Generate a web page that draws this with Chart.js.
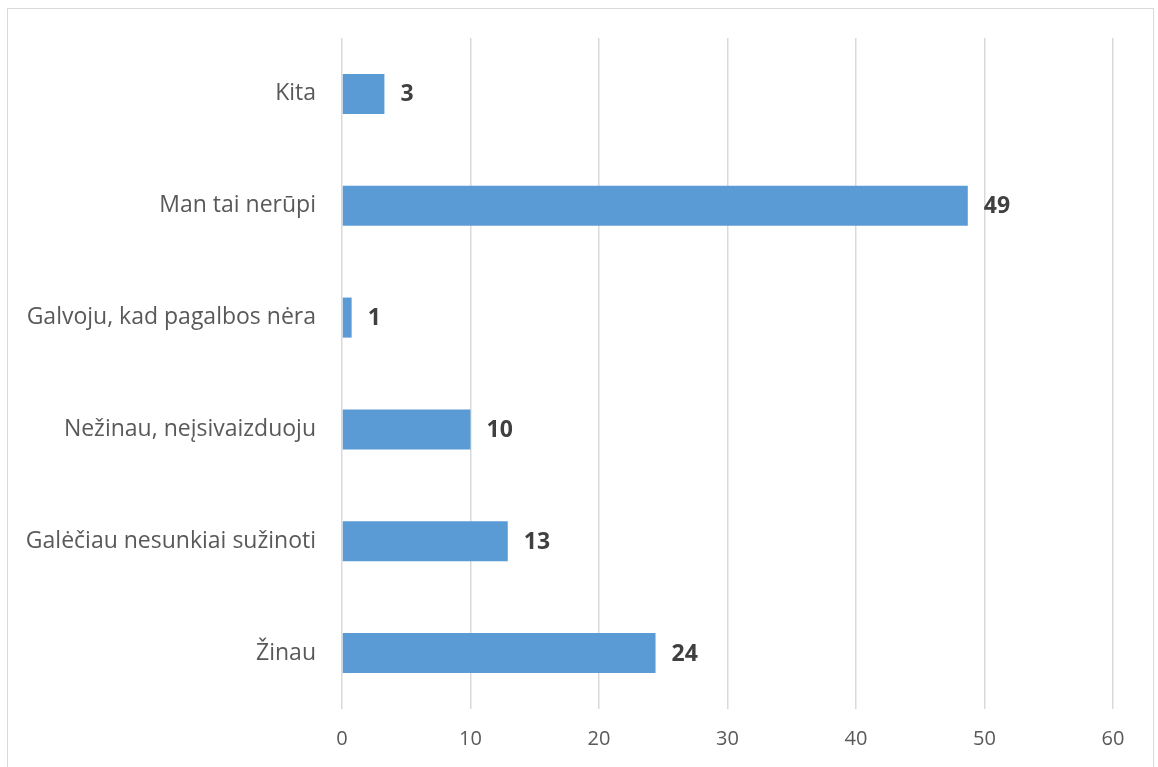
<!DOCTYPE html>
<html>
<head>
<meta charset="utf-8">
<script src="https://cdn.jsdelivr.net/npm/chart.js@4.4.0/dist/chart.umd.min.js"></script>
<style>
  html, body { margin: 0; padding: 0; background: #fff; }
  #wrap { position: relative; width: 1158px; height: 767px; }
  #frame { position: absolute; left: 7px; top: 8px; width: 1147px; height: 780px; border: 1px solid #d9d9d9; box-sizing: border-box; }
  canvas { position: absolute; left: 0; top: 0; }
</style>
</head>
<body>
<div id="wrap">
  <div id="frame"></div>
  <canvas id="barChart" width="1158" height="767"></canvas>
</div>
<script>
const categories = [
  "Kita",
  "Man tai nerūpi",
  "Galvoju, kad pagalbos nėra",
  "Nežinau, neįsivaizduoju",
  "Galėčiau nesunkiai sužinoti",
  "Žinau"
];
const values = [3.3, 48.7, 0.75, 10, 12.9, 24.4];
const xTicks = [0, 10, 20, 30, 40, 50, 60];

const fontFamily = "'Open Sans', sans-serif";

// value labels to the right of each bar
const barLabels = {
  id: "barLabels",
  afterDatasetsDraw(chart) {
    const ctx = chart.ctx;
    const meta = chart.getDatasetMeta(0);
    ctx.save();
    ctx.font = "bold 23px " + fontFamily;
    ctx.fillStyle = "#404040";
    ctx.textAlign = "left";
    ctx.textBaseline = "middle";
    meta.data.forEach((bar, i) => {
      ctx.fillText(String(Math.round(values[i])), bar.x + 16, bar.y + 1);
    });
    ctx.restore();
  }
};

const canvas = document.getElementById("barChart");

const chart = new Chart(canvas, {
  type: "bar",
  data: {
    labels: categories,
    datasets: [
      {
        data: values,
        backgroundColor: "#5b9bd5",
        borderWidth: 0,
        barPercentage: 0.358,
        categoryPercentage: 1.0,
      },
    ],
  },
  options: {
    indexAxis: "y",
    responsive: false,
    animation: false,
    layout: { padding: { left: 0, right: 45, top: 38, bottom: 0 } },
    plugins: {
      legend: { display: false },
      tooltip: { enabled: false },
    },
    scales: {
      x: {
        min: 0,
        max: 60,
        afterBuildTicks(scale) {
          scale.ticks = xTicks.map(v => ({ value: v }));
        },
        afterFit(scale) {
          scale.height = 58;
          scale.paddingLeft = 0;
          scale.paddingRight = 0;
        },
        grid: { color: "#d9d9d9", lineWidth: 1.5, drawTicks: false },
        border: { display: false },
        ticks: {
          padding: 18,
          color: "#595959",
          font: { family: fontFamily, size: 20 },
        },
      },
      y: {
        afterFit(scale) {
          scale.width = 342;
          scale.paddingTop = 0;
          scale.paddingBottom = 0;
        },
        grid: { display: false, drawTicks: false },
        border: { display: false },
        ticks: {
          padding: 26,
          color: "#595959",
          font: { family: fontFamily, size: 23 },
        },
      },
    },
  },
  plugins: [barLabels],
});
</script>
</body>
</html>
